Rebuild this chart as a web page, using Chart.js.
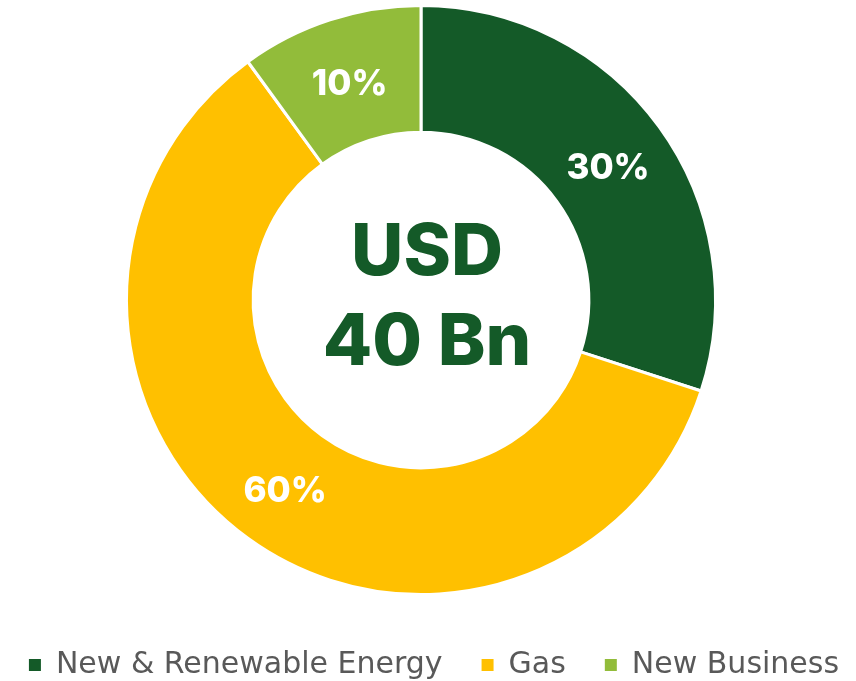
<!DOCTYPE html>
<html>
<head>
<meta charset="utf-8">
<script src="https://cdn.jsdelivr.net/npm/chart.js@4/dist/chart.umd.min.js"></script>
<style>
  html, body { margin: 0; padding: 0; background: #ffffff; }
  #wrap { width: 856px; height: 681px; position: relative; }
</style>
</head>
<body>
<div id="wrap"><canvas id="c" width="856" height="681"></canvas></div>
<script>
const categories = ['New & Renewable Energy', 'Gas', 'New Business'];
const shares = [30, 60, 10];
const percentLabels = ['30%', '60%', '10%'];
const centerLines = ['USD', '40 Bn'];
const colors = ['#145A28', '#FFC000', '#92BC3A'];

const legendTweak = {
  id: 'legendTweak',
  afterInit(chart) {
    const lg = chart.legend;
    const origFit = lg.fit;
    lg.fit = function () {
      const mw = this.maxWidth;
      this.maxWidth = 2000;
      origFit.call(this);
      this.maxWidth = mw;
      this.width = mw;
      this.height = 85;
    };
  },
  afterLayout(chart) {
    const lg = chart.legend;
    lg.top += 15; lg.bottom += 15;
    lg.left += 13 - 60; lg.right += 13 + 60;
  }
};

const textPlugin = {
  id: 'textPlugin',
  afterDatasetsDraw(chart) {
    const ctx = chart.ctx;
    const meta = chart.getDatasetMeta(0);
    ctx.save();
    ctx.fillStyle = '#ffffff';
    ctx.font = '800 35px Inter';
    ctx.textAlign = 'center';
    ctx.textBaseline = 'middle';
    meta.data.forEach((arc, i) => {
      const p = arc.getCenterPoint();
      ctx.fillText(percentLabels[i], p.x, p.y + 4);
    });
    const cx = (chart.chartArea.left + chart.chartArea.right) / 2 + 6;
    ctx.fillStyle = '#145A28';
    ctx.font = '800 72px Inter';
    ctx.textBaseline = 'alphabetic';
    ctx.fillText(centerLines[0], cx, 275);
    ctx.fillText(centerLines[1], cx, 365);
    ctx.restore();
  }
};

new Chart(document.getElementById('c'), {
  type: 'doughnut',
  data: {
    labels: categories,
    datasets: [{
      data: shares,
      backgroundColor: colors,
      borderColor: '#ffffff',
      borderWidth: 3,
      hoverOffset: 0
    }]
  },
  options: {
    responsive: false,
    animation: false,
    cutout: '57%',
    layout: { padding: { top: 4, left: 0, right: 14, bottom: 0 } },
    plugins: {
      tooltip: { enabled: false },
      legend: {
        position: 'bottom',
        labels: {
          boxWidth: 12,
          boxHeight: 12,
          padding: 39,
          color: '#595959',
          font: { family: '"DejaVu Sans"', size: 30 },
          generateLabels(chart) {
            const items = Chart.overrides.doughnut.plugins.legend.labels.generateLabels(chart);
            items.forEach(it => { it.lineWidth = 0; });
            return items;
          }
        }
      }
    }
  },
  plugins: [legendTweak, textPlugin]
});
</script>
</body>
</html>
